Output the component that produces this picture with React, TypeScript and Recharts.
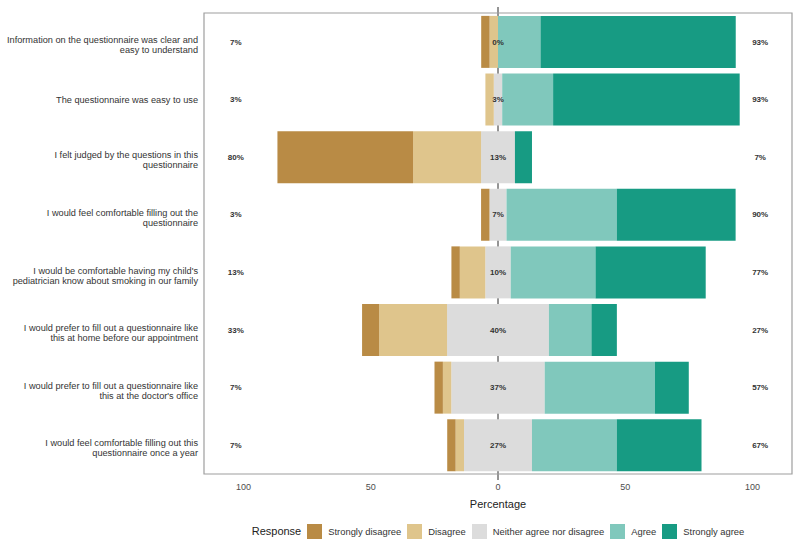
import React from 'react';
import {
  BarChart,
  Bar,
  XAxis,
  YAxis,
  ReferenceLine,
  ReferenceArea,
  ReferenceDot,
  Legend,
} from 'recharts';

const questions = [
  'Information on the questionnaire was clear and\neasy to understand',
  'The questionnaire was easy to use',
  'I felt judged by the questions in this\nquestionnaire',
  'I would feel comfortable filling out the\nquestionnaire',
  "I would be comfortable having my child's\npediatrician know about smoking in our family",
  'I would prefer to fill out a questionnaire like\nthis at home before our appointment',
  "I would prefer to fill out a questionnaire like\nthis at the doctor's office",
  'I would feel comfortable filling out this\nquestionnaire once a year',
];

const stronglyDisagree = [3.3, 0, 53.3, 3.3, 3.3, 6.7, 3.3, 3.3];
const disagree = [3.3, 3.3, 26.7, 0, 10, 26.7, 3.3, 3.3];
const neutral = [0, 3.3, 13.3, 6.7, 10, 40, 36.7, 26.7];
const agree = [16.7, 20, 0, 43.3, 33.3, 16.7, 43.3, 33.3];
const stronglyAgree = [76.7, 73.3, 6.7, 46.7, 43.3, 10, 13.3, 33.3];

const responses = ['Strongly disagree', 'Disagree', 'Neither agree nor disagree', 'Agree', 'Strongly agree'];
const colors = ['#b98b45', '#dfc58c', '#dcdcdc', '#80c8bc', '#179b83'];
const xTicks = [-100, -50, 0, 50, 100];

const FONT = '"Liberation Sans", Arial, sans-serif';

// diverging layout: neutral split around 0, disagree side negative
const data = questions.map((q, i) => ({
  q,
  nL: -neutral[i] / 2,
  nR: neutral[i] / 2,
  d: -disagree[i],
  a: agree[i],
  sd: -stronglyDisagree[i],
  sa: stronglyAgree[i],
  left: Math.round(stronglyDisagree[i] + disagree[i]) + '%',
  mid: Math.round(neutral[i]) + '%',
  right: Math.round(agree[i] + stronglyAgree[i]) + '%',
}));

const QuestionTick = (props: any) => {
  const { x, y, payload } = props;
  const lines = String(payload.value).split('\n');
  const lh = 10;
  const y0 = y + (lines.length > 1 ? 3 : 0) - ((lines.length - 1) * lh) / 2;
  return (
    <text x={x} y={y0} textAnchor="end" fontSize={9.2} fill="#333" fontFamily={FONT}>
      {lines.map((l, i) => (
        <tspan key={i} x={x} y={y0 + i * lh} dy="0.35em">
          {l}
        </tspan>
      ))}
    </text>
  );
};

const pctLabel = (text: string) => (props: any) => {
  const vb = props.viewBox || {};
  const cx = (vb.x || 0) + (vb.width || 0) / 2;
  const cy = (vb.y || 0) + (vb.height || 0) / 2;
  return (
    <text x={cx} y={cy} dy="0.35em" textAnchor="middle" fontSize={8} fontWeight="bold" fill="#333" fontFamily={FONT}>
      {text}
    </text>
  );
};

const LegendContent = () => (
  <div
    style={{
      display: 'flex',
      alignItems: 'center',
      justifyContent: 'center',
      paddingLeft: 210,
      height: 30,
      fontFamily: FONT,
      fontSize: 9.4,
      color: '#333',
    }}
  >
    <span style={{ fontSize: 11, color: '#222', marginRight: 6 }}>Response</span>
    {responses.map((r, i) => (
      <React.Fragment key={r}>
        <span style={{ display: 'inline-block', width: 15, height: 15, background: colors[i], marginRight: 6 }} />
        <span style={{ marginRight: 6 }}>{r}</span>
      </React.Fragment>
    ))}
  </div>
);

export default function App() {
  return (
    <div style={{ position: 'absolute', left: 0, top: 0, background: '#fff' }}>
      <BarChart
        width={800}
        height={546}
        data={data}
        layout="vertical"
        stackOffset="sign"
        barCategoryGap="5%"
        margin={{ top: 7, right: 8, left: 0, bottom: 0 }}
      >
        <XAxis
          type="number"
          domain={[-115.5, 115.5]}
          ticks={xTicks}
          tickFormatter={(v: number) => String(Math.abs(v))}
          tick={{ fontSize: 9, fill: '#4d4d4d', fontFamily: FONT }}
          tickLine={false}
          tickSize={0}
          tickMargin={4}
          axisLine={false}
          height={36}
          label={{ value: 'Percentage', position: 'insideBottom', offset: 8, fontSize: 11, fill: '#222', fontFamily: FONT }}
        />
        <YAxis
          type="category"
          dataKey="q"
          width={204}
          tick={<QuestionTick />}
          tickLine={false}
          tickSize={0}
          tickMargin={6}
          axisLine={false}
          interval={0}
          padding={{ top: 6, bottom: 6 }}
        />
        <ReferenceLine x={0} stroke="#2b2b2b" strokeWidth={1} zIndex={100} />
        <Bar dataKey="nL" stackId="s" fill={colors[2]} isAnimationActive={false} />
        <Bar dataKey="nR" stackId="s" fill={colors[2]} isAnimationActive={false} />
        <Bar dataKey="d" stackId="s" fill={colors[1]} isAnimationActive={false} />
        <Bar dataKey="a" stackId="s" fill={colors[3]} isAnimationActive={false} />
        <Bar dataKey="sd" stackId="s" fill={colors[0]} isAnimationActive={false} />
        <Bar dataKey="sa" stackId="s" fill={colors[4]} isAnimationActive={false} />
        <ReferenceArea x1={-115.5} x2={115.5} fill="none" stroke="#9e9e9e" strokeWidth={1.2} ifOverflow="visible" />
        {data.map((row) => (
          <ReferenceDot key={'l' + row.q} x={-103} y={row.q} r={1} fill="none" stroke="none" label={pctLabel(row.left)} />
        ))}
        {data.map((row) => (
          <ReferenceDot key={'m' + row.q} x={0} y={row.q} r={1} fill="none" stroke="none" label={pctLabel(row.mid)} />
        ))}
        {data.map((row) => (
          <ReferenceDot key={'r' + row.q} x={103} y={row.q} r={1} fill="none" stroke="none" label={pctLabel(row.right)} />
        ))}
        <Legend verticalAlign="bottom" height={30} content={LegendContent} />
      </BarChart>
    </div>
  );
}
